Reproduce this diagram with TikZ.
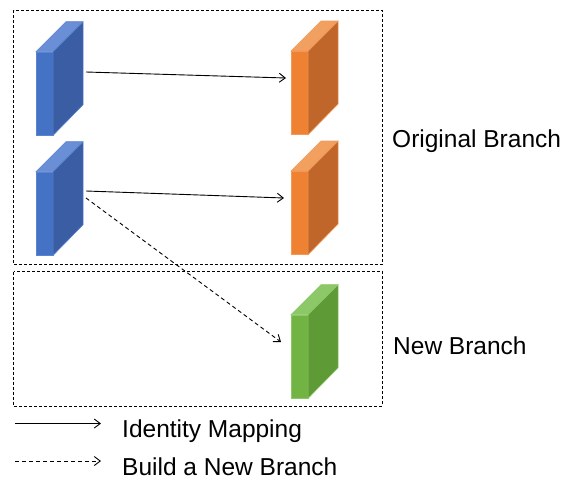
\documentclass[tikz,border=0pt]{standalone}
\usepackage{fontspec}
\setmainfont{Liberation Sans}
\usetikzlibrary{arrows.meta}
\definecolor{bfront}{HTML}{4472C4}
\definecolor{bside}{HTML}{3A5DA3}
\definecolor{btop}{HTML}{6A8FD6}
\definecolor{bedge}{HTML}{5A84D0}
\definecolor{ofront}{HTML}{EE8232}
\definecolor{oside}{HTML}{C0662A}
\definecolor{otop}{HTML}{F1A060}
\definecolor{oedge}{HTML}{F29A58}
\definecolor{gfront}{HTML}{72B443}
\definecolor{gside}{HTML}{5E9A36}
\definecolor{gtop}{HTML}{8CC868}
\definecolor{gedge}{HTML}{8CC868}
\newcommand\myblock[4]{% name, x, ytop, colour prefix
  \node[frontface, fill=#4front, draw=#4edge] (#1) at (#2,#3) {};
  \filldraw[fill=#4top, draw=#4edge, line width=0.6pt] (#1.north west) -- ++(30,-30) -- ++(16.5,0) -- (#1.north east) -- cycle;
  \filldraw[fill=#4side, draw=#4edge, line width=0.6pt] (#1.north east) -- ++(30,-30) -- ++(0,83) -- (#1.south east) -- cycle;
}
\tikzset{
  frontface/.style={rectangle, anchor=north west, minimum width=16.5pt, minimum height=83pt, inner sep=0pt, line width=0.6pt},
  branchbox/.style={draw=black, line width=0.8pt, dash pattern=on 3pt off 2pt},
  conn/.style={line width=0.9pt, -{Straight Barb[length=6pt,width=9pt,line width=0.9pt]}},
  dconn/.style={conn, dash pattern=on 4pt off 3pt},
  lbl/.style={anchor=base west, inner sep=0pt, font=\fontsize{24.5pt}{28pt}\selectfont}
}
\begin{document}
\begin{tikzpicture}[x=1pt,y=-1pt]
\useasboundingbox[fill=white] (0,0) rectangle (566,482);
\draw[branchbox] (13.5,10) rectangle (382,264) coordinate (box1);
\draw[branchbox] (13.5,271.5) rectangle (382,406) coordinate (box2);
\myblock{b1}{36}{51.7}{b}
\myblock{b2}{36}{171.7}{b}
\myblock{o1}{291}{51}{o}
\myblock{o2}{291}{171}{o}
\myblock{g1}{291}{314.7}{g}
\coordinate (s1) at (86,72);
\coordinate (e1) at (286,78);
\coordinate (s2) at (86,191);
\coordinate (e2) at (284,198);
\coordinate (s3) at (86,198);
\coordinate (e3) at (281,342);
\draw[conn] (s1) -- (e1);
\draw[conn] (s2) -- (e2);
\draw[dconn] (s3) -- (e3);
\node[lbl] (orig) at (392,147) {Original Branch};
\node[lbl] (newb) at (393,354) {New Branch};
\coordinate (l1s) at (15,423.5);
\coordinate (l1e) at (101,423.5);
\coordinate (l2s) at (15,461);
\coordinate (l2e) at (101,461);
\draw[conn] (l1s) -- (l1e);
\draw[dconn] (l2s) -- (l2e);
\node[lbl] (idm) at (122,437) {Identity Mapping};
\node[lbl] (bnb) at (122,475) {Build a New Branch};
\end{tikzpicture}
\end{document}
